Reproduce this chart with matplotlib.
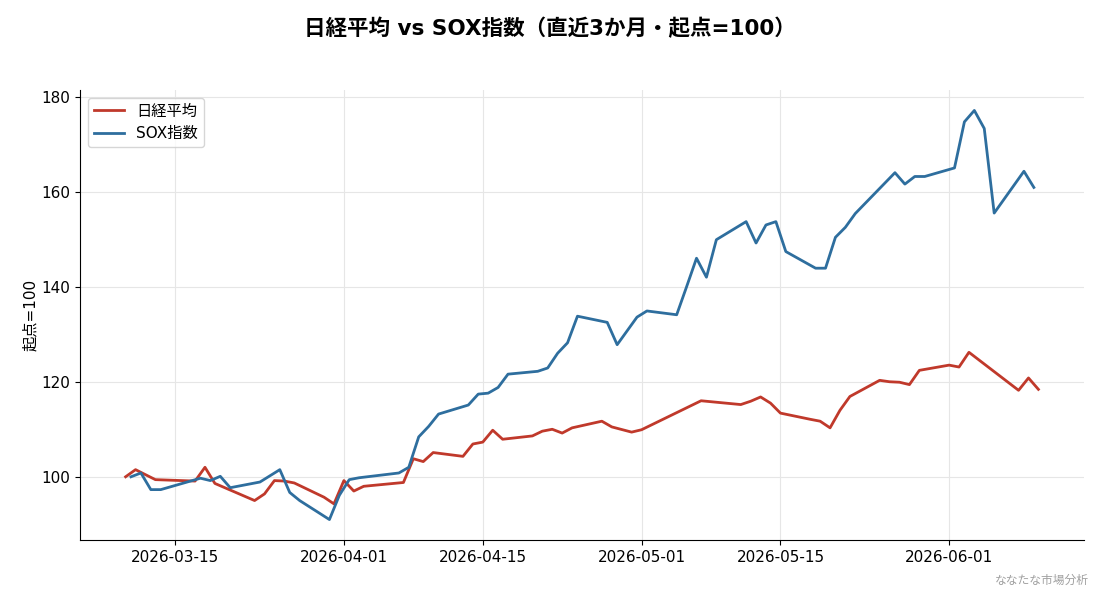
import matplotlib
matplotlib.use("Agg")
import matplotlib.pyplot as plt
import matplotlib.dates as mdates
import pandas as pd

plt.rcParams['font.family'] = ['DejaVu Sans', 'Noto Sans CJK JP']

nikkei_dates = [
    "2026-03-10", "2026-03-11", "2026-03-13", "2026-03-17", "2026-03-18", "2026-03-19",
    "2026-03-23", "2026-03-24", "2026-03-25", "2026-03-26", "2026-03-27", "2026-03-30",
    "2026-03-31", "2026-04-01", "2026-04-02", "2026-04-03", "2026-04-07", "2026-04-08",
    "2026-04-09", "2026-04-10", "2026-04-13", "2026-04-14", "2026-04-15", "2026-04-16",
    "2026-04-17", "2026-04-20", "2026-04-21", "2026-04-22", "2026-04-23", "2026-04-24",
    "2026-04-27", "2026-04-28", "2026-04-30", "2026-05-01", "2026-05-07", "2026-05-11",
    "2026-05-12", "2026-05-13", "2026-05-14", "2026-05-15", "2026-05-18", "2026-05-19",
    "2026-05-20", "2026-05-21", "2026-05-22", "2026-05-25", "2026-05-26", "2026-05-27",
    "2026-05-28", "2026-05-29", "2026-06-01", "2026-06-02", "2026-06-03", "2026-06-08",
    "2026-06-09", "2026-06-10",
]
nikkei_values = [
    100.0, 101.5, 99.4, 99.1, 102.0, 98.6,
    95.0, 96.4, 99.2, 99.1, 98.7, 95.7,
    94.3, 99.2, 97.0, 98.0, 98.8, 103.8,
    103.2, 105.1, 104.3, 106.9, 107.3, 109.8,
    107.9, 108.6, 109.6, 110.0, 109.2, 110.3,
    111.7, 110.5, 109.4, 109.9, 116.0, 115.2,
    115.9, 116.8, 115.5, 113.4, 112.1, 111.7,
    110.3, 114.0, 116.9, 120.3, 120.0, 119.9,
    119.4, 122.4, 123.5, 123.1, 126.2, 118.2,
    120.8, 118.4,
]

sox_dates = [
    "2026-03-10 13:00", "2026-03-11 13:00", "2026-03-12 13:00", "2026-03-13 13:00",
    "2026-03-17 13:00", "2026-03-18 13:00", "2026-03-19 13:00", "2026-03-20 13:00",
    "2026-03-23 13:00", "2026-03-25 13:00", "2026-03-26 13:00", "2026-03-27 13:00",
    "2026-03-30 13:00", "2026-03-31 13:00", "2026-04-01 13:00", "2026-04-02 13:00",
    "2026-04-06 13:00", "2026-04-07 13:00", "2026-04-08 13:00", "2026-04-09 13:00",
    "2026-04-10 13:00", "2026-04-13 13:00", "2026-04-14 13:00", "2026-04-15 13:00",
    "2026-04-16 13:00", "2026-04-17 13:00", "2026-04-20 13:00", "2026-04-21 13:00",
    "2026-04-22 13:00", "2026-04-23 13:00", "2026-04-24 13:00", "2026-04-27 13:00",
    "2026-04-28 13:00", "2026-04-30 13:00", "2026-05-01 13:00", "2026-05-04 13:00",
    "2026-05-05 13:00", "2026-05-06 13:00", "2026-05-07 13:00", "2026-05-08 13:00",
    "2026-05-11 13:00", "2026-05-12 13:00", "2026-05-13 13:00", "2026-05-14 13:00",
    "2026-05-15 13:00", "2026-05-18 13:00", "2026-05-19 13:00", "2026-05-20 13:00",
    "2026-05-21 13:00", "2026-05-22 13:00", "2026-05-26 13:00", "2026-05-27 13:00",
    "2026-05-28 13:00", "2026-05-29 13:00", "2026-06-01 13:00", "2026-06-02 13:00",
    "2026-06-03 13:00", "2026-06-04 13:00", "2026-06-05 13:00", "2026-06-08 13:00",
    "2026-06-09 13:00",
]
sox_values = [
    100.0, 100.8, 97.3, 97.3,
    99.7, 99.2, 100.1, 97.7,
    98.9, 101.5, 96.7, 95.0,
    91.0, 96.1, 99.4, 99.8,
    100.8, 102.0, 108.4, 110.6,
    113.2, 115.1, 117.4, 117.6,
    118.8, 121.6, 122.2, 122.9,
    126.0, 128.2, 133.8, 132.5,
    127.8, 133.6, 134.9, 134.1,
    140.0, 146.0, 142.0, 149.9,
    153.7, 149.2, 153.0, 153.7,
    147.4, 143.9, 143.9, 150.4,
    152.5, 155.4, 164.0, 161.6,
    163.2, 163.2, 165.0, 174.7,
    177.1, 173.3, 155.5, 164.3,
    160.9,
]

series_labels = ["日経平均", "SOX指数"]
title = "日経平均 vs SOX指数（直近3か月・起点=100）"
ylabel = "起点=100"
watermark = "ななたな市場分析"

fig = plt.figure(figsize=(11, 5.94), dpi=100)
ax = fig.add_axes([0.0727, 0.0909, 0.9128, 0.7576])

ax.plot(pd.to_datetime(nikkei_dates), nikkei_values, color="#c0392b", lw=2, label=series_labels[0])
ax.plot(pd.to_datetime(sox_dates), sox_values, color="#2e6e9e", lw=2, label=series_labels[1])

ax.xaxis.set_major_locator(mdates.DayLocator(bymonthday=[1, 15]))
ax.xaxis.set_major_formatter(mdates.DateFormatter("%Y-%m-%d"))
ax.set_yticks([100, 120, 140, 160, 180])

ax.grid(True, color="#e6e6e6", lw=0.8)
ax.set_axisbelow(True)
for s in ["top", "right"]:
    ax.spines[s].set_visible(False)
ax.tick_params(labelsize=11)
ax.set_ylabel(ylabel, fontsize=11, labelpad=2)

ax.legend(loc="upper left", fontsize=11, frameon=True, fancybox=True,
          borderaxespad=0.5, handlelength=2.0)

fig.suptitle(title, fontsize=15.5, fontweight="bold", y=0.97)
fig.text(0.99, 0.012, watermark, ha="right", va="bottom", fontsize=8.5, color="#a0a0a0")

fig.savefig("out.png", dpi=100)
